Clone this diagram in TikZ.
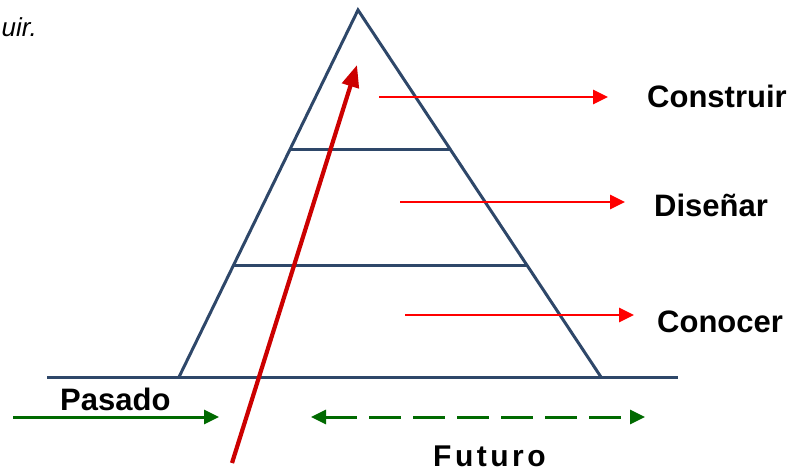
\documentclass[tikz,border=0pt]{standalone}
\usepackage{fontspec}
\setmainfont{Liberation Sans}
\usetikzlibrary{arrows.meta}
\definecolor{navy}{HTML}{2E4769}
\definecolor{darkred}{HTML}{CC0000}
\definecolor{brightred}{HTML}{FF0000}
\definecolor{dgreen}{HTML}{006A00}
\tikzset{
  frame/.style={draw=navy, line width=3pt, line join=miter},
  redarrow/.style={draw=brightred, line width=2.8pt, -{Triangle[length=15pt,width=14pt]}},
  bigarrow/.style={draw=darkred, line width=4.2pt, -{Triangle[length=22pt,width=17pt]}},
  greenarrow/.style={draw=dgreen, line width=3pt, -{Triangle[length=15pt,width=14pt]}},
  greendash/.style={draw=dgreen, line width=3pt, dash pattern=on 32pt off 12pt, dash phase=0pt,
     {Triangle[length=15pt,width=14pt]}-{Triangle[length=15pt,width=14pt]}},
  lbl/.style={font=\fontsize{31}{36}\selectfont\bfseries, inner sep=0pt, anchor=base west},
}
\begin{document}
\begin{tikzpicture}[x=1pt,y=-1pt]
\useasboundingbox (0,0) rectangle (796,475);
% pyramid
\coordinate (apex) at (358,10);
\coordinate (bl) at (179,377);
\coordinate (br) at (601,377);
\coordinate (l1) at (290,149);
\coordinate (r1) at (451,149);
\coordinate (l2) at (233,265);
\coordinate (r2) at (526,265);
\coordinate (gl) at (47,377);
\coordinate (gr) at (678,377);
\draw[frame] (bl) -- (apex) -- (br);
\draw[frame] (l1) -- (r1);
\draw[frame] (l2) -- (r2);
\draw[frame] (gl) -- (gr);
% big red arrow
\coordinate (bs) at (232,463);
\coordinate (be) at (357,65);
\draw[bigarrow] (bs) -- (be);
% level arrows and labels
\node[lbl] (construir) at (647,107.5) {Construir};
\node[lbl] (disenar) at (654,216.5) {Diseñar};
\node[lbl] (conocer) at (657,332.5) {Conocer};
\coordinate (c1) at (379,97);
\coordinate (c2) at (608,97);
\coordinate (d1) at (400,202);
\coordinate (d2) at (625,202);
\coordinate (k1) at (405,315);
\coordinate (k2) at (634,315);
\draw[redarrow] (c1) -- (c2);
\draw[redarrow] (d1) -- (d2);
\draw[redarrow] (k1) -- (k2);
% past / future
\node[lbl] (pasado) at (60,410.5) {Pasado};
\coordinate (p1) at (13,417);
\coordinate (p2) at (219,417);
\draw[greenarrow] (p1) -- (p2);
\coordinate (f1) at (311,417);
\coordinate (f2) at (645,417);
\draw[greendash] (f1) -- (f2);
\node[inner sep=0pt, anchor=base west, font=\fontsize{30}{34}\selectfont\bfseries] (futuro) at (433,466)
  {F\kern3.5pt u\kern3.5pt t\kern3.5pt u\kern3.5pt r\kern3.5pt o};
% cut-off italic text
\node[inner sep=0pt, anchor=base east, font=\fontsize{26}{30}\selectfont\itshape] (uir) at (37,36) {uir.};
\end{tikzpicture}
\end{document}
